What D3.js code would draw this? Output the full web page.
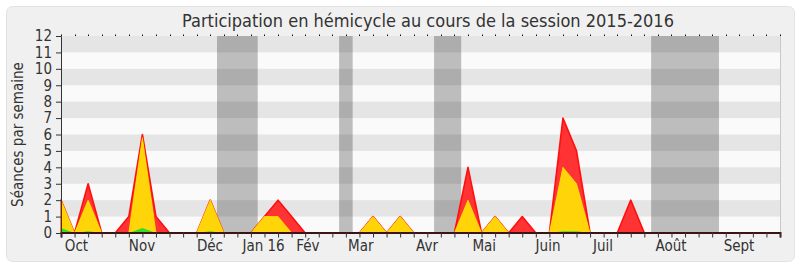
<!DOCTYPE html>
<html><head><meta charset="utf-8">
<script src="https://cdn.jsdelivr.net/npm/d3@7"></script>
<style>
html,body{margin:0;padding:0;background:#fff;}
text{font-family:"DejaVu Sans Condensed","DejaVu Sans",sans-serif;fill:#333;}
</style></head>
<body>
<svg id="chart" width="800" height="267"></svg>
<script>
// week index 0..53
const weeks = d3.range(0, 54);
const redValues = [2,0,3,0,0,1,6,1,0,0, 0,2,0,0,0,1,2,1,0,0, 0,0,0,1,0,1,0,0,0,0, 4,0,1,0,1,0,0,7,5,0, 0,0,2,0,0,0,0,0,0,0, 0,0,0,0];
const yellowValues = [2,0,2,0,0,0,5.8,0,0,0, 0,2,0,0,0,1,1,0,0,0, 0,0,0,1,0,1,0,0,0,0, 2,0,1,0,0,0,0,4,3,0, 0,0,0,0,0,0,0,0,0,0, 0,0,0,0];
const greenValues = [0.3,0,0.1,0,0,0,0.3,0,0,0, 0,0.1,0,0,0,0.05,0.05,0,0,0, 0,0,0,0,0,0.05,0,0,0,0, 0.05,0,0,0,0,0,0,0.1,0.1,0, 0,0,0,0,0,0,0,0,0,0, 0,0,0,0];
const monthLabels = ["Oct","Nov","Déc","Jan 16","Fév","Mar","Avr","Mai","Juin","Juil","Août","Sept"];
const monthPos = [1.14,5.97,10.98,14.93,18.2,22.1,26.98,31.2,35.9,39.95,44.97,49.98];
const vacStart = [11.5,20.5,27.5,43.5];
const vacEnd = [14.5,21.5,29.5,48.5];
const yTicks = d3.range(0, 13);
const title = "Participation en hémicycle au cours de la session 2015-2016";
const yTitle = "Séances par semaine";

const svg = d3.select("#chart");
const L = 61, R = 780, T = 36, B = 233;
const x = d3.scaleLinear().domain([0, 53]).range([L, R]);
const y = d3.scaleLinear().domain([0, 12]).range([B, T]);

// panel
svg.append("rect").attr("x",6.5).attr("y",6.5).attr("width",788).attr("height",255)
  .attr("rx",6).attr("fill","#f0f0f0").attr("stroke","#e2e2e2");

// title
svg.append("text").attr("x",428).attr("y",27).attr("text-anchor","middle")
  .style("font-size","18px").text(title);

// stripes
const g = svg.append("g");
g.append("rect").attr("x",L).attr("y",T).attr("width",R-L).attr("height",B-T).attr("fill","#fafafa");
g.selectAll("rect.stripe").data(d3.range(1, 12, 2)).join("rect").attr("class","stripe")
  .attr("x",L).attr("width",R-L).attr("y",d=>y(d+1)).attr("height",d=>y(d)-y(d+1)).attr("fill","#e5e5e5");
// vacations
g.selectAll("rect.vac").data(vacStart).join("rect").attr("class","vac")
  .attr("x",(d)=>x(d)).attr("width",(d,i)=>x(vacEnd[i])-x(d))
  .attr("y",T).attr("height",B-T).attr("fill","rgba(0,0,0,0.245)");

// areas
function drawArea(vals, fill, stroke, sw){
  const area = d3.area().x((d,i)=>x(i)).y0(y(0)).y1(d=>y(d));
  svg.append("path").datum(vals).attr("d",area).attr("fill",fill)
    .attr("stroke",stroke).attr("stroke-width",sw).attr("stroke-linejoin","round");
}
drawArea(redValues, "#ff3333", "#ff1010", 1.6);
drawArea(yellowValues, "#ffd50a", "#ffe800", 0.8);
drawArea(greenValues, "#33dd22", "none", 0);

// right border
svg.append("line").attr("x1",R+0.5).attr("x2",R+0.5).attr("y1",T).attr("y2",B).attr("stroke","#c8c8c8");

// top dotted ticks
svg.selectAll("rect.tt").data(weeks).join("rect").attr("class","tt")
  .attr("x",d=>Math.round(x(d))).attr("y",34.5).attr("width",1).attr("height",1.5).attr("fill","#111");

// x axis
const xAxis = d3.axisBottom(x).tickValues(weeks).tickSize(5).tickFormat("");
const xa = svg.append("g").attr("transform",`translate(0,${B-0.5})`).call(xAxis);
xa.select(".domain").attr("stroke","#3a1414").attr("stroke-width",2);
xa.selectAll(".tick line").attr("stroke","#333");
svg.selectAll("text.month").data(monthLabels).join("text").attr("class","month")
  .attr("x",(d,i)=>x(monthPos[i])).attr("y",251).attr("text-anchor","middle")
  .style("font-size","15px").text(d=>d);

// y axis
const yAxis = d3.axisLeft(y).tickValues(yTicks).tickSize(5).tickPadding(4);
const ya = svg.append("g").attr("transform",`translate(${L},0)`).call(yAxis);
ya.select(".domain").attr("stroke","#333");
ya.selectAll(".tick line").attr("stroke","#333");
ya.selectAll(".tick text").style("font-size","15px").attr("fill","#333")
  .style("font-family",'"DejaVu Sans Condensed","DejaVu Sans",sans-serif');

// y title
svg.append("text").attr("transform",`translate(23,${(T+B)/2}) rotate(-90)`)
  .attr("text-anchor","middle").style("font-size","15px").text(yTitle);
</script>
</body></html>
